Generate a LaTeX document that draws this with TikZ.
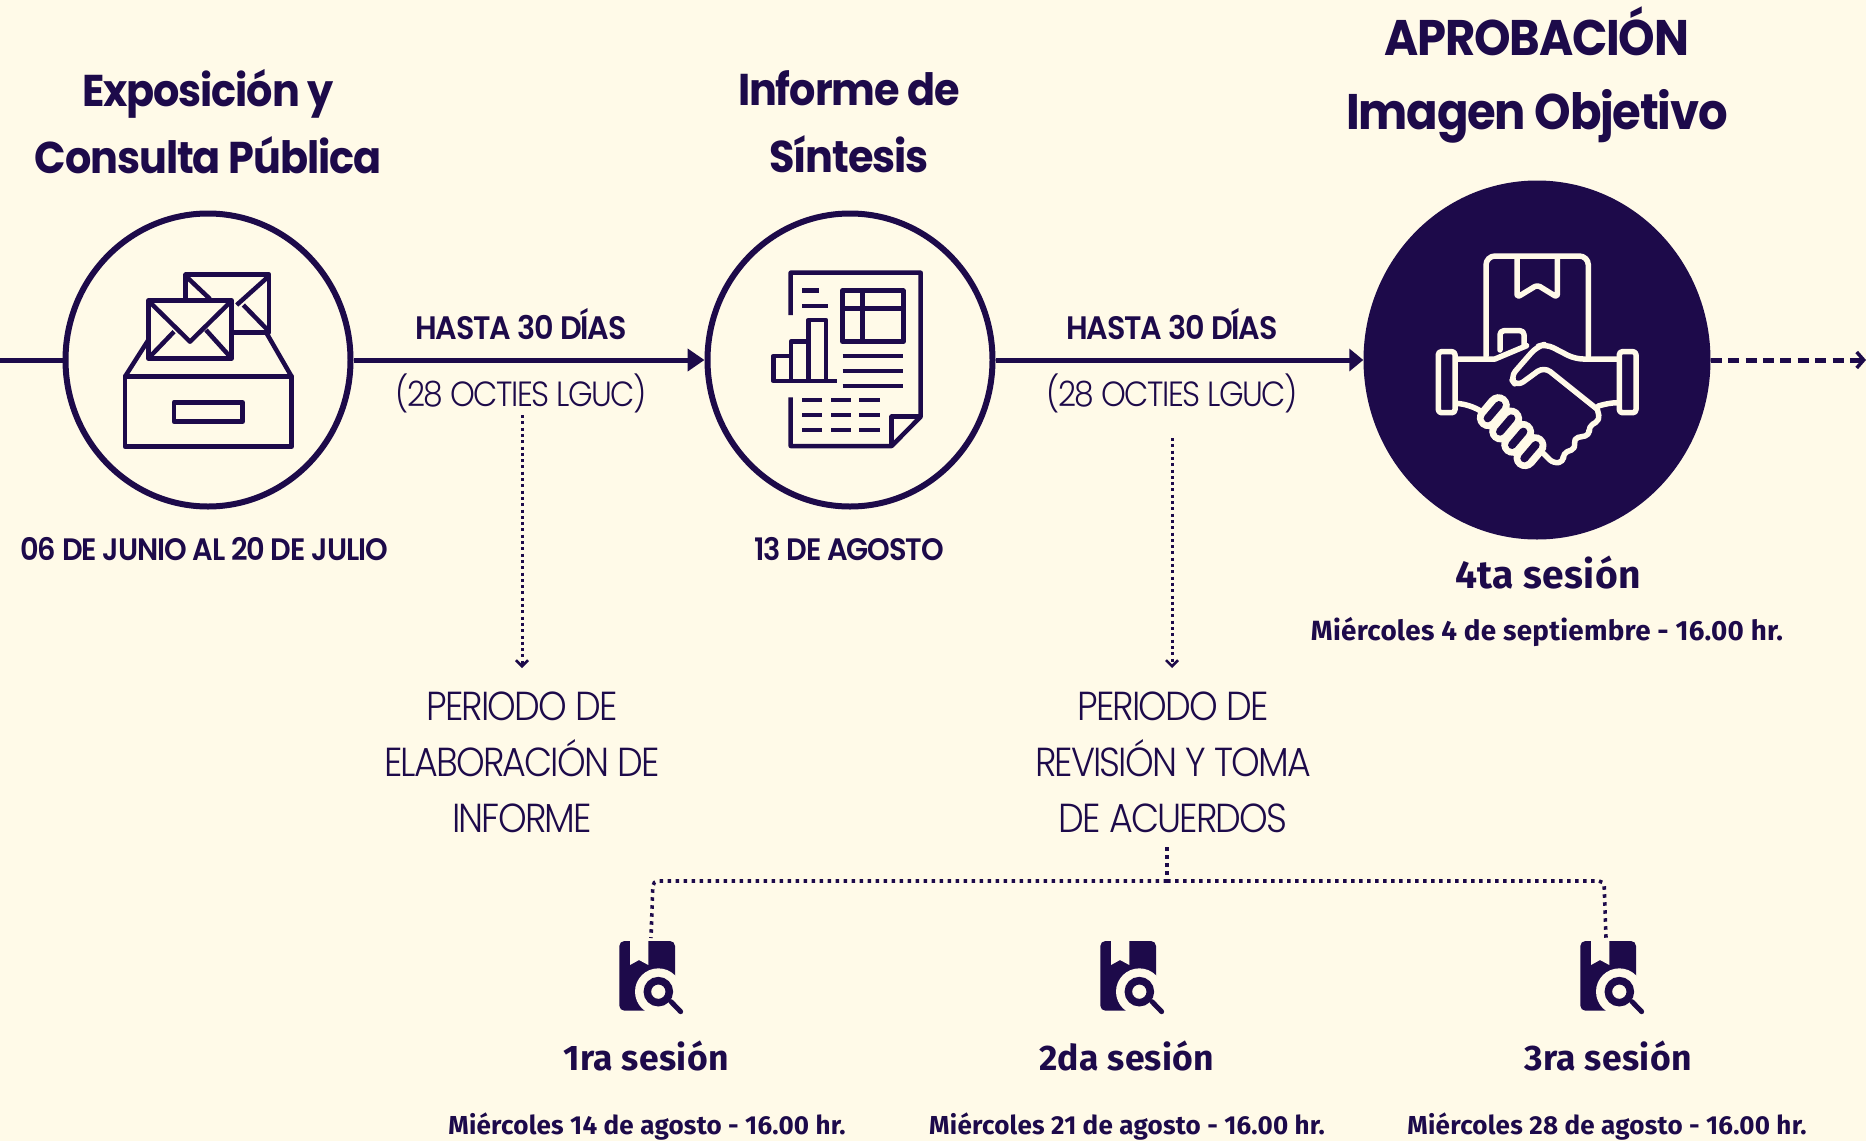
\documentclass[tikz,border=0pt]{standalone}
\usepackage{fontspec}
\usetikzlibrary{arrows.meta,shapes.geometric}
\setmainfont{Poppins}
\newfontfamily\headfont[FakeStretch=0.93,LetterSpace=-2.5]{Poppins}
\newfontfamily\capfont[FakeStretch=0.93,LetterSpace=-3.5,BoldFont={Poppins SemiBold}]{Poppins}
\newfontfamily\thinfont[FakeStretch=0.9,LetterSpace=-4.5]{Poppins Light}
\newfontfamily\sesfont[LetterSpace=1]{Fira Sans}
\definecolor{navy}{HTML}{1D0A4A}
\definecolor{cream}{HTML}{FFFAE8}
\tikzset{
  x=1pt,y=-1pt,
  every node/.style={text=navy,inner sep=0pt},
  ring/.style={ellipse,draw=navy,line width=6pt,minimum width=285pt,minimum height=293pt,fill=cream},
  solidring/.style={ellipse,fill=navy,minimum width=347pt,minimum height=359pt},
  head/.style={font=\headfont\bfseries\fontsize{44.5}{67}\selectfont,align=center},
  bighead/.style={font=\headfont\bfseries\fontsize{50}{74}\selectfont,align=center},
  capt/.style={font=\capfont\bfseries\fontsize{31}{32}\selectfont},
  capth/.style={font=\capfont\bfseries\fontsize{32.5}{32}\selectfont},
  thinc/.style={font=\thinfont\fontsize{35}{32}\selectfont},
  thin/.style={font=\thinfont\fontsize{40.5}{56}\selectfont,align=center},
  seshead/.style={font=\sesfont\bfseries\fontsize{35.5}{40}\selectfont},
  seshb/.style={font=\sesfont\bfseries\fontsize{39}{40}\selectfont},
  sesdate/.style={font=\sesfont\bfseries\fontsize{26}{32}\selectfont},
  sesdb/.style={font=\sesfont\bfseries\fontsize{27.8}{32}\selectfont},
  flow/.style={draw=navy,line width=5pt},
  dotarrow/.style={draw=navy,line width=3pt,dash pattern=on 3pt off 3.3pt,-{Straight Barb[length=6pt,width=12pt,line width=2.6pt]}},
  bracket/.style={draw=navy,line width=3.6pt,dash pattern=on 3.5pt off 4.5pt,rounded corners=5pt},
  ico/.style={draw=navy,line width=4.5pt,line join=round},
  icc/.style={draw=cream,line width=5.5pt,line join=round,line cap=round},
  bookmark/.pic={
    \begin{scope}[scale=0.33333]
      \fill[navy,rounded corners=5pt] (88,303) rectangle (255,512);
      \fill[cream] (120,300) -- (120,375) -- (147,360) -- (175,375) -- (175,300) -- cycle;
      \fill[cream] (205,455) circle (70);
      \fill[cream] (205,455) rectangle (262,520);
      \draw[navy,line width=7.5pt] (205,455) circle (33);
      \draw[navy,line width=5pt,line cap=round] (243,485) -- (272,515);
    \end{scope}
  },
}
\begin{document}
\begin{tikzpicture}
\useasboundingbox[fill=cream] (0,0) rectangle (1866,1141);

% circles
\node[ring] (c1) at (208,360) {};
\node[ring] (c2) at (850,360) {};
\node[solidring] (c3) at (1537,360) {};
\coordinate (start) at (0,360);
\coordinate (endd) at (1866,360);

% main line
\draw[flow] (start) -- (c1.west);
\draw[flow,-{Triangle[length=17pt,width=22pt]}] (c1.east) -- (c2.west);
\draw[flow,-{Triangle[length=14pt,width=22pt]}] (c2.east) -- (c3.west);
\draw[flow,dash pattern=on 11pt off 6.4pt,-{Straight Barb[length=7pt,width=16pt,line width=3.5pt]}] (c3.east) -- (endd);

% icon 1
\begin{scope}[shift={(50,200)},scale=0.33333]
  \draw[ico] (225,530) rectangle (725,740);
  \draw[ico] (372,607) rectangle (578,665);
  \draw[ico] (225,530) -- (295,420);
  \draw[ico] (725,530) -- (650,400);
  \draw[ico] (407,298) -- (407,224) -- (657,224) -- (657,397) -- (550,397);
  \draw[ico] (407,228) -- (480,297);
  \draw[ico] (657,228) -- (560,315);
  \draw[ico] (580,315) -- (655,392);
  \draw[ico] (295,302) rectangle (545,475);
  \draw[ico] (298,305) -- (420,425) -- (542,305);
  \draw[ico] (298,472) -- (372,395);
  \draw[ico] (542,472) -- (468,390);
\end{scope}

% icon 2
\begin{scope}[shift={(690,200)},scale=0.33333]
  \draw[ico] (302,345) -- (302,218) -- (692,218) -- (692,650) -- (605,738) -- (302,738) -- (302,592);
  \draw[ico] (692,650) -- (605,650) -- (605,738);
  \draw[ico] (457,272) rectangle (640,425);
  \draw[ico] (518,272) -- (518,425);
  \draw[ico] (457,325) -- (640,325);
  \draw[ico] (337,272) -- (388,272);
  \draw[ico] (337,318) -- (413,318);
  \draw[ico] (250,468) rectangle (303,543);
  \draw[ico] (303,425) rectangle (355,543);
  \draw[ico] (355,360) rectangle (408,543);
  \draw[ico] (250,543) -- (440,543);
  \foreach \yy in {468,513,558} \draw[ico] (458,\yy) -- (638,\yy);
  \foreach \yy in {600,645,690} {
    \draw[ico] (337,\yy) -- (397,\yy);
    \draw[ico] (423,\yy) -- (483,\yy);
    \draw[ico] (508,\yy) -- (570,\yy);
  }
\end{scope}

% icon 3
\begin{scope}[shift={(1340,170)},scale=0.33333]
  \draw[icc,rounded corners=9pt] (438,558) -- (438,258) -- (745,258) -- (745,558);
  \draw[icc,rounded corners=3pt] (531,262) -- (531,382) -- (592,345) -- (652,382) -- (652,262);
  \draw[icc,rounded corners=4pt] (480,540) -- (480,482) -- (552,482) -- (552,525);
  \draw[icc,rounded corners=3pt] (295,545) rectangle (345,728);
  \draw[icc,rounded corners=3pt] (838,545) rectangle (888,728);
  \draw[icc] (350,567) -- (465,567) -- (560,527);
  \draw[icc,rounded corners=8pt] (835,567) -- (705,567) -- (618,522) -- (590,530) -- (510,622) -- (530,650) -- (612,590) -- (772,718);
  \draw[icc,rounded corners=5pt] (772,718) -- (780,750) -- (745,770) -- (750,795) -- (700,805) -- (708,835) -- (668,850) -- (672,875) -- (640,880) -- (610,850);
  \draw[icc] (350,700) .. controls (375,702) and (400,710) .. (420,722);
  \draw[icc] (835,698) .. controls (815,698) and (795,702) .. (775,708);
  \foreach \px/\py in {460/725,497/765,533/805,570/845} {
    \draw[cream,line width=23pt,line cap=round] (\px-15,\py+18) -- (\px+15,\py-18);
    \draw[navy,line width=8pt,line cap=round] (\px-17,\py+20) -- (\px+17,\py-20);
  }
\end{scope}

% headings
\node[head] (t1) at (208,122) {Exposición y\\Consulta Pública};
\node[head] (t2) at (849,122) {Informe de\\Síntesis};
\node[bighead] (t3) at (1537,75) {APROBACIÓN\\Imagen Objetivo};

% dates
\node[capt] (d1) at (204,549) {06 DE JUNIO AL 20 DE JULIO};
\node[capt] (d2) at (849,549) {13 DE AGOSTO};

% durations
\node[capth] (h1) at (521,324) {HASTA 30 DÍAS};
\node[capth] (h2) at (1172,324) {HASTA 30 DÍAS};
\node[thinc] (o1) at (521,393) {(28 OCTIES LGUC)};
\node[thinc] (o2) at (1172,393) {(28 OCTIES LGUC)};

% periods
\node[thin] (p1) at (522,762) {PERIODO DE\\ELABORACIÓN DE\\INFORME};
\node[thin] (p2) at (1173,762) {PERIODO DE\\REVISIÓN Y TOMA\\DE ACUERDOS};

\coordinate (a1s) at (522,415);
\coordinate (a1e) at (522,668);
\coordinate (a2s) at (1172,438);
\coordinate (a2e) at (1172,668);
\draw[dotarrow] (a1s) -- (a1e);
\draw[dotarrow] (a2s) -- (a2e);

% bracket
\coordinate (bt) at (1167,847);
\coordinate (bm) at (1167,881);
\coordinate (bl) at (651,938);
\coordinate (br) at (1606,938);
\draw[bracket] (bt) -- (bm);
\draw[bracket] (bm) -- (653,881) -- (bl);
\draw[bracket] (bm) -- (1604,881) -- (br);

% book icons
\pic at (590,840) {bookmark};
\pic at (1071,840) {bookmark};
\pic at (1551,840) {bookmark};

% sessions
\node[seshead] (s1) at (646,1056) {1ra sesión};
\node[seshead] (s2) at (1127,1056) {2da sesión};
\node[seshead] (s3) at (1608,1056) {3ra sesión};
\node[seshb] (s4) at (1548,573) {4ta sesión};
\node[sesdate] (m1) at (647,1127) {Miércoles 14 de agosto - 16.00 hr.};
\node[sesdate] (m2) at (1127,1127) {Miércoles 21 de agosto - 16.00 hr.};
\node[sesdate] (m3) at (1607,1127) {Miércoles 28 de agosto - 16.00 hr.};
\node[sesdb] (m4) at (1547,632) {Miércoles 4 de septiembre - 16.00 hr.};
\end{tikzpicture}
\end{document}
